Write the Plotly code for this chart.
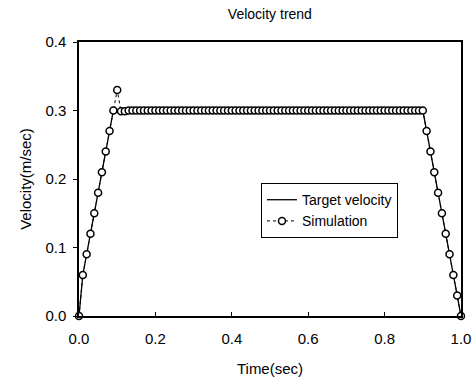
import plotly.graph_objects as go

# ---- data ----
time_sim = [0.00, 0.01, 0.02, 0.03, 0.04, 0.05, 0.06, 0.07, 0.08, 0.09,
            0.10, 0.11, 0.12, 0.13, 0.14, 0.15, 0.16, 0.17, 0.18, 0.19,
            0.20, 0.21, 0.22, 0.23, 0.24, 0.25, 0.26, 0.27, 0.28, 0.29,
            0.30, 0.31, 0.32, 0.33, 0.34, 0.35, 0.36, 0.37, 0.38, 0.39,
            0.40, 0.41, 0.42, 0.43, 0.44, 0.45, 0.46, 0.47, 0.48, 0.49,
            0.50, 0.51, 0.52, 0.53, 0.54, 0.55, 0.56, 0.57, 0.58, 0.59,
            0.60, 0.61, 0.62, 0.63, 0.64, 0.65, 0.66, 0.67, 0.68, 0.69,
            0.70, 0.71, 0.72, 0.73, 0.74, 0.75, 0.76, 0.77, 0.78, 0.79,
            0.80, 0.81, 0.82, 0.83, 0.84, 0.85, 0.86, 0.87, 0.88, 0.89,
            0.90, 0.91, 0.92, 0.93, 0.94, 0.95, 0.96, 0.97, 0.98, 0.99,
            1.00]
vel_sim = [0.00, 0.06, 0.09, 0.12, 0.15, 0.18, 0.21, 0.24, 0.27, 0.30,
           0.33, 0.299, 0.299, 0.30, 0.30, 0.30, 0.30, 0.30, 0.30, 0.30,
           0.30, 0.30, 0.30, 0.30, 0.30, 0.30, 0.30, 0.30, 0.30, 0.30,
           0.30, 0.30, 0.30, 0.30, 0.30, 0.30, 0.30, 0.30, 0.30, 0.30,
           0.30, 0.30, 0.30, 0.30, 0.30, 0.30, 0.30, 0.30, 0.30, 0.30,
           0.30, 0.30, 0.30, 0.30, 0.30, 0.30, 0.30, 0.30, 0.30, 0.30,
           0.30, 0.30, 0.30, 0.30, 0.30, 0.30, 0.30, 0.30, 0.30, 0.30,
           0.30, 0.30, 0.30, 0.30, 0.30, 0.30, 0.30, 0.30, 0.30, 0.30,
           0.30, 0.30, 0.30, 0.30, 0.30, 0.30, 0.30, 0.30, 0.30, 0.30,
           0.30, 0.27, 0.24, 0.21, 0.18, 0.15, 0.12, 0.09, 0.06, 0.03,
           0.00]
time_target = [0.00, 0.01, 0.09, 0.90, 1.00]
vel_target = [0.00, 0.06, 0.30, 0.30, 0.00]

x_ticks = [0.0, 0.2, 0.4, 0.6, 0.8, 1.0]
y_ticks = [0.0, 0.1, 0.2, 0.3, 0.4]

FONT = "Arial, Liberation Sans, sans-serif"

fig = go.Figure()
fig.add_trace(go.Scatter(
    x=time_target, y=vel_target, mode="lines", name="Target velocity",
    line=dict(color="black", width=1.3), cliponaxis=False))
fig.add_trace(go.Scatter(
    x=time_sim, y=vel_sim, mode="lines+markers", name="Simulation",
    line=dict(color="black", width=1, dash="dot"),
    marker=dict(symbol="circle", size=7, color="white",
                line=dict(color="black", width=1.5)),
    cliponaxis=False))

fig.update_layout(
    width=476, height=383,
    margin=dict(l=79, r=15, t=42, b=67),
    paper_bgcolor="white", plot_bgcolor="white",
    font=dict(family=FONT, color="black", size=15),
    title=dict(text="Velocity trend", x=0.567, xanchor="center",
               y=0.963, yanchor="middle", font=dict(size=14)),
    showlegend=True,
    legend=dict(x=0.835, xanchor="right", y=0.485, yanchor="top",
                bordercolor="black", borderwidth=1, bgcolor="white",
                font=dict(size=14), tracegroupgap=0, itemwidth=30),
)
fig.update_xaxes(
    range=[0, 1], tickvals=x_ticks, ticktext=[f"{v:.1f}" for v in x_ticks],
    showline=True, linecolor="black", linewidth=1.5, mirror=True,
    ticks="inside", ticklen=4, tickcolor="black", showgrid=False, zeroline=False,
    ticklabelstandoff=8, automargin=False,
    title=dict(text="Time(sec)", standoff=18, font=dict(size=15)),
)
fig.update_yaxes(
    range=[0, 0.4], tickvals=y_ticks, ticktext=[f"{v:.1f}" for v in y_ticks],
    showline=True, linecolor="black", linewidth=1.5, mirror=True,
    ticks="outside", ticklen=4, tickcolor="black", showgrid=False, zeroline=False,
    ticklabelstandoff=4, automargin=False,
    title=dict(text="Velocity(m/sec)", standoff=10, font=dict(size=15)),
)

fig.write_html("out.html")
